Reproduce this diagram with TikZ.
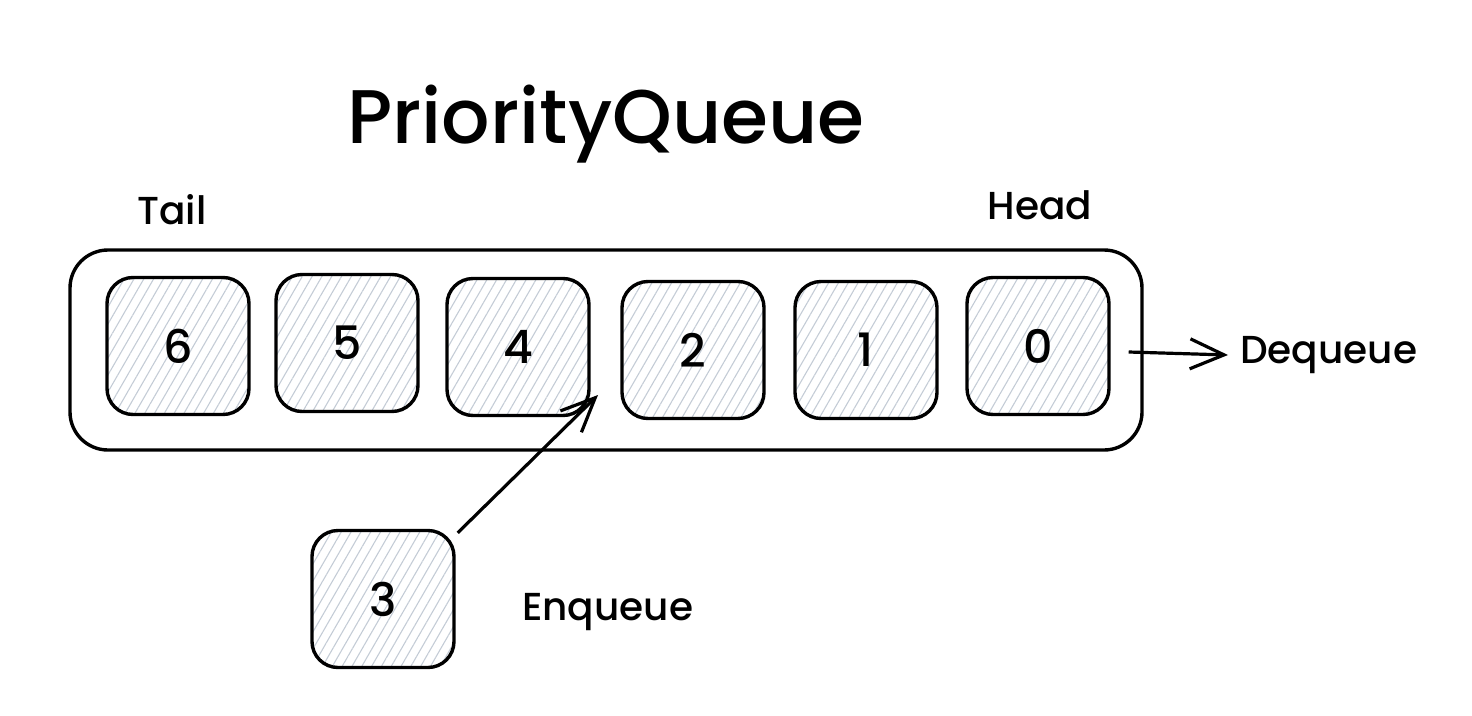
\documentclass[tikz,border=0pt]{standalone}
\usepackage{fontspec}
\setmainfont{Poppins}[UprightFont=* Medium]
\usetikzlibrary{arrows.meta,patterns.meta}
\definecolor{hatch}{HTML}{C4CCD6}
\tikzset{
  cell/.style={draw=black, line width=3.4pt, rounded corners=26pt,
    minimum width=142pt, minimum height=137pt, inner sep=0pt,
    pattern={Lines[angle=60,distance=8.5pt,line width=1.1pt]}, pattern color=hatch,
    font=\fontsize{46}{52}\selectfont},
  outer/.style={draw=black, line width=3.4pt, rounded corners=38pt,
    minimum width=1072pt, minimum height=200pt, inner sep=0pt},
  lbl/.style={font=\fontsize{39}{44}\selectfont, inner sep=0pt},
  arr/.style={line width=3.2pt, -{Straight Barb[length=34pt,width=30pt,line width=3.2pt]}}
}
\begin{document}
\begin{tikzpicture}[x=1pt,y=-1pt]
\useasboundingbox (0,0) rectangle (1472,715);
\node[outer] (queue) at (606,350) {};
\node[cell] (n6) at (178,346) {6};
\node[cell] (n5) at (347,343) {5};
\node[cell] (n4) at (518,347) {4};
\node[cell] (n2) at (693,350) {2};
\node[cell] (n1) at (866,350) {1};
\node[cell] (n0) at (1038,346) {0};
\node[cell] (n3) at (383,599) {3};
\node[font=\fontsize{76}{80}\selectfont, inner sep=0pt] (title) at (606,124) {PriorityQueue};
\node[lbl] (tail) at (172,210) {Tail};
\node[lbl] (head) at (1040,205) {Head};
\node[lbl, anchor=west] (deq) at (1240,355) {Dequeue};
\node[lbl, anchor=west] (enq) at (522,612) {Enqueue};
\coordinate (ins) at (598,395);
\draw[arr] ([xshift=2pt,yshift=-4pt]n3.north east) -- (ins);
\draw[arr] ([xshift=18pt,yshift=-6pt]n0.east) -- ([xshift=-12pt]deq.west);
\end{tikzpicture}
\end{document}
